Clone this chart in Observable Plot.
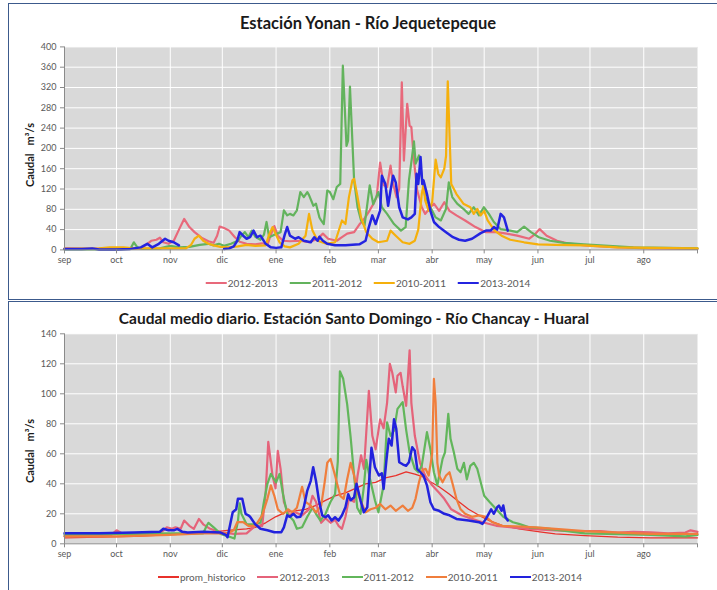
<!DOCTYPE html>
<html>
<head>
<meta charset="utf-8">
<script src="https://cdn.jsdelivr.net/npm/d3@7"></script>
<script src="https://cdn.jsdelivr.net/npm/@observablehq/plot@0.6"></script>
<style>
  body { margin:0; width:717px; height:590px; position:relative; background:#fff; overflow:hidden; font-family: Lato, "Open Sans", sans-serif; }
  .panel { position:absolute; border:1px solid #3c5a8c; box-sizing:border-box; }
  .title { position:absolute; font-weight:bold; color:#1a1a1a; white-space:nowrap; transform:translate(-50%,-50%); line-height:1; }
  .ylab { position:absolute; font-weight:bold; font-size:11px; color:#1a1a1a; white-space:pre; transform:translate(-50%,-50%) rotate(-90deg); line-height:1; }
  .legend { position:absolute; display:flex; align-items:center; gap:12px; transform:translate(-50%,-50%); font-size:10px; color:#595959; white-space:nowrap; }
  .item { display:flex; align-items:center; gap:1px; }
  .sw { display:inline-block; width:21px; height:2px; }
  .chart { position:absolute; left:0; }
</style>
</head>
<body>
<div class="panel" style="left:8px; top:3px; width:720px; height:297px;"></div>
<div class="panel" style="left:8px; top:301px; width:720px; height:300px;"></div>

<div class="title" style="left:368px; top:23px; font-size:16.5px;">Estación Yonan - Río Jequetepeque</div>
<div class="ylab" style="left:29px; top:155px;">Caudal   m³/s</div>
<div id="top" class="chart" style="top:36px;"></div>
<div id="legTop" class="legend" style="left:368px; top:283px;"></div>

<div class="title" style="left:354px; top:319px; font-size:15.5px;">Caudal medio diario. Estación Santo Domingo - Río Chancay - Huaral</div>
<div class="ylab" style="left:29px; top:451px;">Caudal   m³/s</div>
<div id="bottom" class="chart" style="top:325px;"></div>
<div id="legBottom" class="legend" style="left:370px; top:577px;"></div>

<script>
// ---------- axis data ----------
const months = ["sep","oct","nov","dic","ene","feb","mar","abr","may","jun","jul","ago"];
const monthStarts = [0,30,61,91,122,153,181,212,242,273,303,334];
const yTicksTop = [0,40,80,120,160,200,240,280,320,360,400];
const yTicksBottom = [0,20,40,60,80,100,120,140];

// ---------- Estación Yonan (day of season from 1 sep, caudal m3/s) ----------
const yonan_2012_2013 = [[0,3],[15,2],[30,3],[44,3],[47,10],[50,18],[53,20],[55,24],[57,15],[60,12],[63,18],[66,40],[69,61],[72,45],[75,35],[79,24],[83,17],[86,14],[88,28],[89.5,46],[92,43],[95,38],[98,26],[101,16],[105,12],[110,11],[114,13],[117,10],[119,30],[121,47],[123,28],[126,18],[130,17],[136,18],[141,15],[146,22],[149,32],[152,22],[157,18],[160,25],[163,32],[167,35],[170,50],[173,62],[176,78],[178,90],[180,104],[182,172],[184,128],[186,124],[188,166],[189.5,130],[191.5,104],[193,120],[194.5,330],[195.7,176],[197.6,288],[199,245],[200,242],[201.5,176],[203.4,117],[206,84],[208,71],[211,84],[213,91],[216,77],[219,94],[222,77],[226,68],[231,58],[237,45],[243,35],[249,35],[255,32],[261,28],[268,22],[271,30],[274,41],[278,28],[284,18],[290,13],[300,9],[319,5],[338,3],[365,2]];
const yonan_2011_2012 = [[0,1],[30,1],[38,2],[40,15],[42,5],[45,2],[55,3],[61,8],[66,5],[72,6],[78,10],[83,12],[86,9],[89,12],[92,8],[96,12],[100,18],[102,28],[104,35],[106,25],[108,38],[110,26],[113,20],[115,30],[116.5,55],[118,25],[121,30],[124.6,35],[126.5,78],[128.4,68],[130,71],[132,68],[134,78],[136,114],[138,104],[140,114],[141,108],[143.5,87],[145,91],[147,64],[148,58],[149.5,51],[151.5,117],[153,114],[155,100],[157,124],[159,130],[160.5,363],[162.6,205],[163.5,215],[164.6,322],[167,137],[169,84],[171,58],[173,48],[176,127],[178,90],[181,114],[183,84],[186,71],[190,51],[194,38],[196.7,45],[198.6,137],[200.5,186],[201.5,214],[202.5,170],[204.4,186],[206.3,137],[208,104],[211,84],[214,64],[217,58],[220,81],[221.6,133],[223.6,104],[226.4,91],[230,81],[233,71],[236,84],[239,68],[241.8,84],[244.7,71],[247.6,55],[251.4,41],[257,38],[261,35],[265,46],[269,35],[273.5,25],[280,18],[288,14],[299.5,11],[309,9],[328,5],[348,4],[365,3]];
const yonan_2010_2011 = [[0,2],[20,3],[26,5],[34,5],[40,3],[70,3],[73,10],[75,22],[77.5,28],[80,18],[83,12],[86,9],[90,6],[94,5],[100,7],[105,10],[110,8],[116,9],[118,30],[120,45],[122,30],[124,15],[127,7],[130,5],[135,12],[139,28],[141,71],[143,38],[146,18],[151,12],[156,15],[160,58],[162,51],[164,104],[166,137],[167,140],[169,104],[171,64],[174,35],[177.5,22],[181,15],[186,18],[188,38],[191,28],[195,15],[199,12],[202,18],[204,40],[206,110],[207,128],[208,97],[210,77],[212,94],[214,178],[215.5,150],[217,143],[219,160],[220,185],[221,332],[222,229],[223,130],[226,110],[230,91],[234,84],[236,71],[238,81],[240,68],[242,77],[244,58],[248,38],[252,28],[257,20],[265,15],[273,11],[283,10],[300,9],[319,5],[338,4],[365,3]];
const yonan_2013_2014 = [[0,2],[10,2],[16,3],[20,1],[30,1],[38,2],[44,5],[47.7,12],[50.6,5],[54.4,12],[58,22],[60,18],[63,15],[66,9],[66.5,NaN],[92,2],[95,3],[97.6,7],[99.6,18],[101,35],[103,28],[105,22],[107,25],[109,38],[111,25],[113,28],[116,12],[119,5],[122,4],[125,5],[127,30],[128.4,45],[130,28],[133,22],[135,25],[138,18],[142,15],[144,25],[146,18],[147,26],[149,18],[151.5,12],[156,9],[162,9],[170,11],[173.6,18],[175.5,45],[177.5,68],[179.4,51],[182,78],[183,146],[185,130],[186.6,87],[188,117],[189.5,146],[191,133],[193,84],[195,64],[198,60],[200,64],[202,71],[203,150],[204,130],[205.3,183],[206.3,130],[207,137],[209,110],[211,77],[213,55],[216,45],[220,35],[224,25],[227.5,20],[231,18],[235,22],[240,33],[243,38],[245.7,38],[247.6,45],[249.5,40],[251.5,71],[253.4,64],[255.6,38]];

// ---------- Estación Santo Domingo ----------
const chancay_prom_historico = [[0,4],[40,5],[59,6],[78,7],[94,9],[105,10],[110,11],[116,14],[121.7,18],[127.4,21],[133,22],[139,23],[144.7,25.5],[150.5,29],[156,32],[162,34],[167.8,37],[173.6,40],[179.4,41],[185,44],[191,45.5],[197,48],[202,46.5],[206,45],[210,42],[216,38],[222,33],[227.4,28],[233,23],[239,19],[245,15.5],[253,12],[262,10],[274,8],[283,6.6],[300,5.5],[319,4.5],[338,4],[365,4]];
const chancay_2012_2013 = [[0,5],[20,5],[27,6],[30,9],[33,7],[45,7],[55,7],[59,11],[62,10],[64,11],[67,10],[69,15.5],[72,12],[74.6,10],[77.5,16.6],[80,13],[84,10],[90,7.7],[97.6,6.6],[105,7],[110,12],[114,12],[116,34],[117.5,68],[120,45],[121.7,37],[123,62],[124.6,50],[126.5,28],[129.4,19],[133,21],[137,19],[141,23],[143,32],[145,28],[148,14],[150.5,17],[153.4,14],[156,16],[158,12],[160,10],[162,18],[164,30],[167,28],[169,45.5],[171,59],[172.7,50],[175.5,102],[177.5,72],[179.4,63],[182,83],[184,77],[186,94],[187.6,120],[189,114],[191,101],[192,112],[193.8,114],[195,105],[197,92],[199,129],[200,94],[202,72],[205,54],[208,45.5],[212,39],[216,34],[219,30],[223,23],[229,19],[235,16.6],[241,14.4],[249,12],[258,11],[268,10],[283,9],[295,8.5],[309,8.4],[319,7.5],[328,8],[338,7.7],[348,7],[358,7.5],[361,9],[365,8]];
const chancay_2011_2012 = [[0,6],[30,6.5],[60,7],[80,7],[82,12],[83,14],[86,11],[90,6.6],[96,4.4],[98,3.5],[100,15],[101,27],[102,20],[105,13],[110,13],[113,14],[115,28],[117,40],[119,46.6],[122,41],[124,46.6],[126,33],[128.4,20],[132,15.5],[134,10],[137,11],[140,18],[143,24],[145,20],[147.6,15.5],[150.5,20],[153.4,28],[156,33],[157.6,55],[158.8,115],[160.7,110],[163,93],[165,71],[166.9,46.6],[168.8,24],[170.7,20],[172.6,38],[174,56],[176,44],[179,29],[181,21],[184,39],[186,81],[188,72],[190,75.5],[192,90],[194,93],[195,94.4],[197,76],[199,61],[202,50],[204,47.7],[206,52],[209,74.4],[211,63],[213,47.7],[215,39],[218,56.6],[219.4,61],[221.3,86.6],[222.6,70],[224.5,61],[226.5,50],[228.4,47.7],[230.3,54],[232,43],[234,52],[236,54],[238,50],[240,41],[242,32],[245,28],[249,23],[253,18],[258.6,14.4],[262,13.3],[268,11],[276,10.4],[283,9.5],[300,7],[320,6.5],[338,6],[358,5],[365,6]];
const chancay_2010_2011 = [[0,5],[30,5],[60,6],[80,7],[94,7],[97.6,9],[99.6,14.4],[103,14.4],[106,12],[110,12],[114,19],[117,30],[119,39],[121,32],[123,23],[126,20],[129,23],[131.4,21],[134,24],[137,38],[139,28],[142,25.5],[145,21],[148,25.5],[150,41],[151.5,54],[153.4,56.6],[156,45.5],[159,32],[161,30],[163,43],[165,54],[167,45.5],[169,34],[171,28],[173.6,21],[176.5,23],[179.4,24],[182,26.6],[185,23],[188,25.5],[191,22],[195,25.5],[198,22],[200.5,24],[202.4,30],[204.4,41],[206.3,49],[208.2,50],[210,45.5],[212,60],[213,110],[214,94],[215,54],[216,45.5],[218,41],[220,45.5],[222,47.7],[224,39],[226,30],[228.4,23],[231,20],[235,18],[239,19],[243,18],[246.6,14.4],[252.4,12],[260,11.7],[271.6,11],[283,10],[300,8.5],[320,7.5],[338,6.6],[365,6.6]];
const chancay_2013_2014 = [[0,7],[20,7],[40,7.5],[55,8],[57,10],[60,9],[63,9],[65,10],[68,8],[71,7.5],[80,8],[90,7.5],[93,6],[94,4.4],[96,15.5],[97,21],[99,23],[100,30],[102.5,30],[104.4,20],[106,19],[107,18],[110,13],[113,10],[117,9],[121,7.7],[125,7.7],[126.5,11],[128.4,19],[130,18],[132,20],[134,17.7],[136,18],[138,24.4],[140,35.5],[142,42],[143.4,51],[145,42],[146.7,29],[148.6,19],[150.5,17.7],[152,19],[154,15.5],[156,17.7],[158,15.5],[160,19],[162,24.4],[163.6,33],[165,29],[167,31],[168.4,40],[170.7,29],[172.6,21],[174.6,24.4],[177,64],[179,51],[181.3,45.5],[183,47],[184,36.6],[185.7,56.6],[187,70],[188.6,65.5],[190,83],[191.3,76.6],[193,54.4],[195,53],[197,52],[198.6,54.4],[200.5,64.4],[202,62],[203.4,50],[205.3,47.7],[207,45.5],[209,39],[211,27.7],[213,23],[216,22],[219,20],[222,19],[226,16.6],[233,15.5],[239,14.4],[241,13.3],[243,16.6],[246,23],[247.6,20],[249.5,24.4],[250.5,25.5],[252,22],[253,25.5],[254.3,17.7],[255.6,15.5]];

// ---------- series definitions ----------
const topSeries = [
  {name:"2012-2013", data:yonan_2012_2013, color:"#e8697b", w:2.2},
  {name:"2011-2012", data:yonan_2011_2012, color:"#63b35d", w:2.2},
  {name:"2010-2011", data:yonan_2010_2011, color:"#f5b00c", w:2.2},
  {name:"2013-2014", data:yonan_2013_2014, color:"#2424e0", w:2.5}
];
const bottomSeries = [
  {name:"prom_historico", data:chancay_prom_historico, color:"#e8312b", w:1.3},
  {name:"2012-2013", data:chancay_2012_2013, color:"#e5637a", w:2.2},
  {name:"2011-2012", data:chancay_2011_2012, color:"#62b65b", w:2.2},
  {name:"2010-2011", data:chancay_2010_2011, color:"#f07e3c", w:2.2},
  {name:"2013-2014", data:chancay_2013_2014, color:"#2222dd", w:2.5}
];

const toRows = (arr) => arr.map(([d, v]) => ({d, v}));
const monthLabel = (d) => months[monthStarts.indexOf(d)];

function makeChart(series, yTicks, yMax, height, mTop, mBottom) {
  return Plot.plot({
    width: 717, height,
    marginLeft: 64, marginRight: 20, marginTop: mTop, marginBottom: mBottom,
    style: {background: "transparent", fontFamily: "Lato, 'Open Sans', sans-serif", fontSize: "9px", color: "#595959"},
    x: {domain: [0, 365]},
    y: {domain: [0, yMax]},
    marks: [
      Plot.frame({fill: "#d9d9d9", stroke: null}),
      Plot.gridY(yTicks, {stroke: "#ffffff", strokeOpacity: 1, strokeWidth: 1}),
      Plot.gridX(monthStarts.slice(1), {stroke: "#ffffff", strokeOpacity: 1, strokeWidth: 1}),
      ...series.map(s => Plot.line(toRows(s.data), {x: "d", y: "v", stroke: s.color, strokeWidth: s.w, strokeLinejoin: "round", curve: "linear"})),
      Plot.ruleX([0], {stroke: "#8a8a8a"}),
      Plot.ruleY([0], {stroke: "#8a8a8a"}),
      Plot.axisY(yTicks, {tickSize: 4, tickPadding: 4, label: null, stroke: "#8a8a8a"}),
      Plot.axisX([...monthStarts, 365], {tickSize: 4, tickPadding: 3, label: null, stroke: "#8a8a8a", tickFormat: (d) => monthLabel(d) ?? ""})
    ]
  });
}

document.getElementById("top").append(makeChart(topSeries, yTicksTop, 400, 234, 10.4, 20.6));
document.getElementById("bottom").append(makeChart(bottomSeries, yTicksBottom, 140, 240, 8.3, 21.7));

function legend(el, series) {
  for (const s of series) {
    const it = document.createElement("div");
    it.className = "item";
    const sw = document.createElement("span");
    sw.className = "sw";
    sw.style.background = s.color;
    sw.style.height = (s.w < 1.5 ? 1.5 : 2) + "px";
    const t = document.createElement("span");
    t.textContent = s.name;
    it.append(sw, t);
    el.append(it);
  }
}
legend(document.getElementById("legTop"), topSeries);
legend(document.getElementById("legBottom"), bottomSeries);
</script>
</body>
</html>
